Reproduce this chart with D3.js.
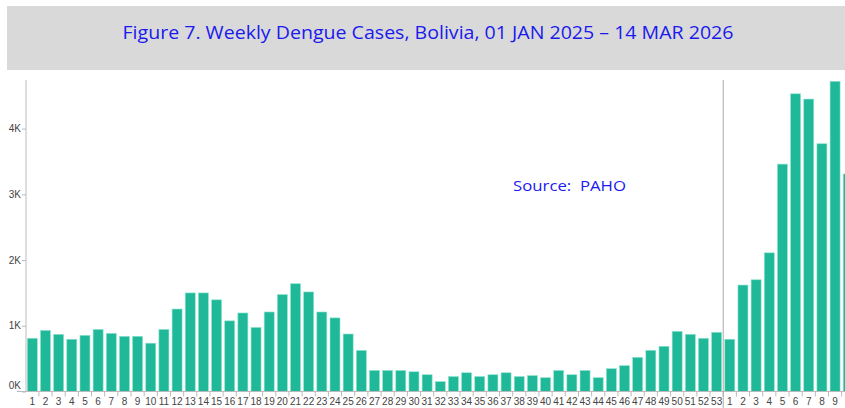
<!DOCTYPE html>
<html>
<head>
<meta charset="utf-8">
<script src="https://cdn.jsdelivr.net/npm/d3@7"></script>
<style>
    body { margin: 0; background: #fff; overflow: hidden; }
    .axis text { font-family: "Liberation Sans", Arial, sans-serif; font-size: 10px; fill: #444; }
    .axis path, .axis line { stroke: #bbb; }
</style>
</head>
<body>
<div id="chart"></div>
<script>
// weeks shown: 2025 epi weeks 1-53, then 2026 weeks 1-10 (last is cut by the frame)
const weeks2025 = d3.range(1, 54).map(String);
const weeks2026 = d3.range(1, 11).map(String);

const cases2025 = [810, 930, 870, 795, 855, 945, 885, 840, 840, 735,
    945, 1255, 1500, 1500, 1395, 1075, 1195, 975, 1210, 1475,
    1640, 1515, 1210, 1120, 875, 625, 320, 320, 320, 300,
    255, 150, 228, 285, 228, 255, 285, 228, 242, 210,
    320, 255, 320, 210, 347, 393, 520, 627, 688, 916,
    870, 810, 901];
const cases2026 = [795, 1620, 1700, 2110, 3460, 4530, 4450, 3770, 4720, 3310];

const yTicks = [0, 1000, 2000, 3000, 4000];

const data = weeks2025.map((w, i) => ({ key: "2025-" + w, week: w, cases: cases2025[i] }))
    .concat(weeks2026.map((w, i) => ({ key: "2026-" + w, week: w, cases: cases2026[i] })));

const W = 845, H = 408;
const margin = { top: 80, left: 26, bottom: 391.5 };

const svg = d3.select("#chart").append("svg")
    .attr("width", W)
    .attr("height", H);

// title band
svg.append("rect")
    .attr("x", 7).attr("y", 6)
    .attr("width", W - 7).attr("height", 64)
    .attr("fill", "#d9d9d9");

svg.append("text")
    .attr("x", 428).attr("y", 39)
    .attr("text-anchor", "middle")
    .attr("font-family", "'Open Sans', sans-serif")
    .attr("font-size", 19)
    .attr("fill", "#1a1aee")
    .attr("textLength", 611)
    .attr("lengthAdjust", "spacingAndGlyphs")
    .text("Figure 7. Weekly Dengue Cases, Bolivia, 01 JAN 2025 \u2013 14 MAR 2026");

const step = 13.16;
const x = d3.scaleBand()
    .domain(data.map(d => d.key))
    .range([margin.left, margin.left + step * (data.length - 0.24 + 0.2)])
    .paddingInner(0.24)
    .paddingOuter(0.1);

const y = d3.scaleLinear()
    .domain([0, 4740])
    .range([margin.bottom, margin.top]);

// bars
svg.selectAll(".bar")
    .data(data)
    .enter().append("rect")
    .attr("class", "bar")
    .attr("x", d => x(d.key))
    .attr("y", d => y(d.cases))
    .attr("width", x.bandwidth())
    .attr("height", d => y(0) - y(d.cases))
    .attr("fill", "#1fb99a")
    .attr("stroke", "#8fe3cf")
    .attr("stroke-width", 0.6);

// y axis
const yAxis = d3.axisLeft(y)
    .tickValues(yTicks)
    .tickSize(4)
    .tickPadding(1)
    .tickFormat(d => (d / 1000) + "K");

svg.append("g")
    .attr("class", "axis axis--y")
    .attr("transform", `translate(${margin.left},0)`)
    .call(yAxis)
    .call(g => g.select(".domain").attr("d", `M0,${margin.top}V${margin.bottom}`))
    .call(g => g.selectAll(".tick text").attr("dy", d => d === 0 ? "-0.3em" : "0.32em"));

// x axis: labels under bars, ticks at band boundaries
const xAxis = d3.axisBottom(x)
    .tickSize(0)
    .tickPadding(6)
    .tickFormat(k => k.split("-")[1]);

const gx = svg.append("g")
    .attr("class", "axis axis--x")
    .attr("transform", `translate(0,${margin.bottom})`)
    .call(xAxis);

gx.select(".domain").attr("d", `M17,0H${W}`);

// the last week sits past the frame edge, its label isn't shown
gx.selectAll(".tick")
    .filter(k => x(k) + x.bandwidth() / 2 > W)
    .select("text").remove();

gx.selectAll(".sep")
    .data(data.slice(1))
    .enter().append("line")
    .attr("class", "sep")
    .attr("x1", d => x(d.key) - x.step() * x.paddingInner() / 2)
    .attr("x2", d => x(d.key) - x.step() * x.paddingInner() / 2)
    .attr("y1", 0)
    .attr("y2", 5);

// year divider
const divX = x("2026-1") - x.step() * x.paddingInner() / 2;
svg.append("line")
    .attr("x1", divX).attr("x2", divX)
    .attr("y1", margin.top).attr("y2", H)
    .attr("stroke", "#aaa")
    .attr("stroke-width", 1);

svg.append("text")
    .attr("x", 513).attr("y", 191)
    .attr("font-family", "'Open Sans', sans-serif")
    .attr("font-size", 15)
    .attr("fill", "#1a1aee")
    .attr("textLength", 113)
    .attr("lengthAdjust", "spacingAndGlyphs")
    .attr("xml:space", "preserve")
    .text("Source:  PAHO");
</script>
</body>
</html>
